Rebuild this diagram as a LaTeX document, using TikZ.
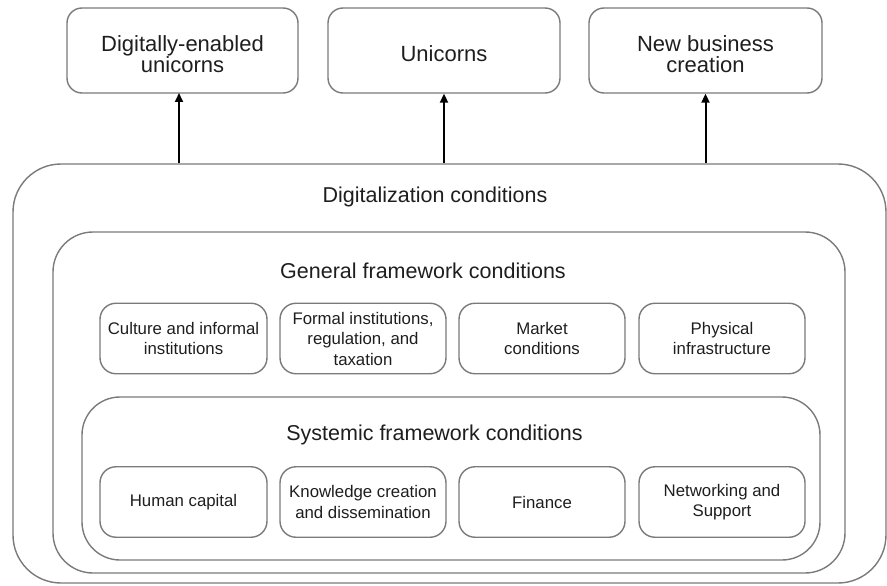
\documentclass[tikz,border=0pt]{standalone}
\usepackage{fontspec}
\setmainfont{Liberation Sans}
\usetikzlibrary{arrows.meta}
\definecolor{edge}{HTML}{7A7A7A}
\definecolor{ink}{HTML}{1E1E1E}
% taller first line, so the text sits a little below the box centre
\newcommand{\liftline}{\rule{0pt}{23pt}}
\begin{document}
\begin{tikzpicture}[x=1pt,y=-1pt,
  frame/.style={draw=edge,line width=1.4pt,rounded corners=#1,inner sep=0pt,anchor=center},
  outcome/.style={frame=15pt,text=ink,align=center,font=\fontsize{22}{21.5}\selectfont},
  factor/.style={frame=16pt,text=ink,align=center,font=\fontsize{16.8}{20.5}\selectfont,
    minimum height=70.5pt},
  heading/.style={text=ink,inner sep=0pt,font=\fontsize{21.5}{24}\selectfont},
  arr/.style={line width=2pt,-{Triangle[length=9pt,width=8pt]}}]
\useasboundingbox (0,0) rectangle (887,586);

% nested frames
\node[frame=48pt,minimum width=873pt,minimum height=419pt] (outer) at (449.5,373.5) {};
\node[frame=40pt,minimum width=792pt,minimum height=341pt] (general) at (449,402.5) {};
\node[frame=38pt,minimum width=738pt,minimum height=163pt] (systemic) at (451,478.5) {};

% frame titles
\node[heading] (tdig) at (435,196.5) {Digitalization conditions};
\node[heading] (tgen) at (423,270.5) {General framework conditions};
\node[heading] (tsys) at (434.5,434.5) {Systemic framework conditions};

% outcomes
\node[outcome,minimum width=231pt,minimum height=85pt] (o1) at (182.5,50.5) {\liftline Digitally-enabled\\unicorns};
\node[outcome,minimum width=232pt,minimum height=85pt] (o2) at (444,50.5) {\liftline Unicorns};
\node[outcome,minimum width=233pt,minimum height=85pt] (o3) at (705.5,50.5) {\liftline New business\\creation};

% general framework conditions
\node[factor,minimum width=167pt] (g1) at (183.5,338.5) {Culture and informal\\institutions};
\node[factor,minimum width=166pt] (g2) at (363,338.5) {Formal institutions,\\regulation, and\\taxation};
\node[factor,minimum width=166pt] (g3) at (542,338.5) {Market\\conditions};
\node[factor,minimum width=166pt] (g4) at (722,338.5) {Physical\\infrastructure};

% systemic framework conditions
\node[factor,minimum width=167pt] (s1) at (183.5,502) {Human capital};
\node[factor,minimum width=166pt] (s2) at (363,502) {Knowledge creation\\and dissemination};
\node[factor,minimum width=166pt] (s3) at (542,502) {Finance};
\node[factor,minimum width=166pt] (s4) at (722,502) {Networking and\\Support};

% influence arrows
\coordinate (a1) at (179,93);
\draw[arr] (outer.north -| a1) -- (a1);
\draw[arr] (outer.north -| o2.south) -- (o2.south);
\draw[arr] (outer.north -| o3.south) -- (o3.south);
\end{tikzpicture}
\end{document}
